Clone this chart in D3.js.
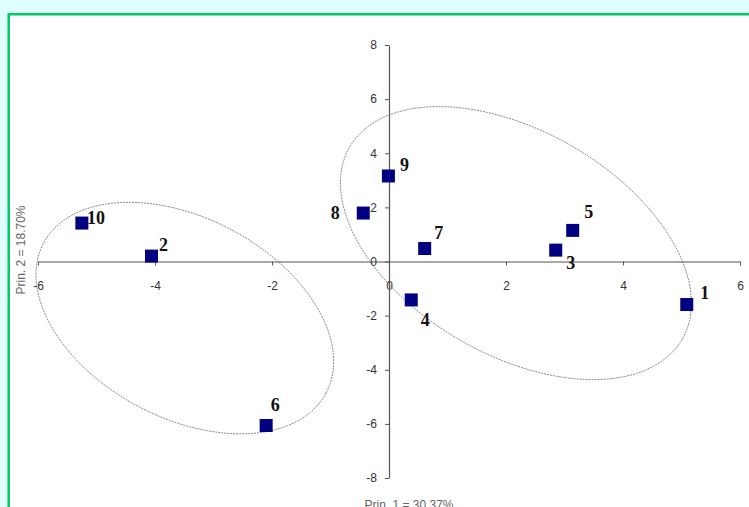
<!DOCTYPE html>
<html><head><meta charset="utf-8">
<script src="https://cdn.jsdelivr.net/npm/d3@7"></script>
<style>
html,body{margin:0;padding:0;background:#e0ffff;}
svg{display:block;}
</style></head>
<body>
<svg id="chart" width="749" height="507"></svg>
<script>
// ---- data ----
const labels = ["1","2","3","4","5","6","7","8","9","10"];
const prin1 = [5.09, -4.06, 2.85, 0.38, 3.14, -2.10, 0.61, -0.44, -0.01, -5.25];
const prin2 = [-1.59, 0.20, 0.42, -1.42, 1.15, -6.06, 0.48, 1.79, 3.16, 1.42];
const xTicks = [-6, -4, -2, 0, 2, 4, 6];
const yTicks = [-8, -6, -4, -2, 0, 2, 4, 6, 8];
const xTitle = "Prin. 1 = 30.37%";
const yTitle = "Prin. 2 = 18.70%";
// cluster ellipses in data units: centre, major axis vector, minor axis vector
const ellipseCentres = [[-3.49, -2.09], [2.17, 0.68]];
const ellipseMajor = [[2.415, -2.77], [2.843, -3.548]];
const ellipseMinor = [[-0.80, -3.26], [-0.957, -3.585]];

// ---- layout (not data) ----
const labelOffsets = [[18,-12],[12,-11],[15,13],[14,20],[16,-18],[9,-20],[14,-16],[-28,0],[16,-11],[14,-5]];

const svg = d3.select("#chart");
// frame
svg.append("rect").attr("x", 0).attr("y", 0).attr("width", 749).attr("height", 507).attr("fill", "#e0ffff");
svg.append("rect").attr("x", 8.75).attr("y", 14.25).attr("width", 800).attr("height", 600)
  .attr("fill", "#ffffff").attr("stroke", "#00cc66").attr("stroke-width", 2.5);

const x = d3.scaleLinear().domain([-6, 6]).range([38, 740]);
const y = d3.scaleLinear().domain([-8, 8]).range([478, 45]);

// ellipses
const line = d3.line().curve(d3.curveLinearClosed);
ellipseCentres.forEach((c, i) => {
  const pts = d3.range(0, 360, 2).map(deg => {
    const t = deg * Math.PI / 180;
    const dx = ellipseMajor[i][0] * Math.cos(t) + ellipseMinor[i][0] * Math.sin(t);
    const dy = ellipseMajor[i][1] * Math.cos(t) + ellipseMinor[i][1] * Math.sin(t);
    return [x(c[0] + dx), y(c[1] + dy)];
  });
  svg.append("path").attr("d", line(pts)).attr("fill", "none")
    .attr("stroke", "#888").attr("stroke-width", 1).attr("stroke-dasharray", "2,1");
});

// axes crossing at origin
const axisColor = "#555";
const gx = svg.append("g").attr("transform", `translate(0,${y(0)})`)
  .call(d3.axisBottom(x).tickValues(xTicks).tickSize(4).tickPadding(16).tickSizeOuter(0).tickFormat(d3.format("d")));
const gy = svg.append("g").attr("transform", `translate(${x(0)},0)`)
  .call(d3.axisLeft(y).tickValues(yTicks).tickSize(4).tickPadding(8).tickSizeOuter(0).tickFormat(d3.format("d")));
[gx, gy].forEach(g => {
  g.select(".domain").attr("stroke", axisColor).attr("stroke-width", 1.2);
  g.selectAll(".tick line").attr("stroke", axisColor);
  g.selectAll(".tick text").attr("fill", "#333").attr("font-family", "Arial, 'Liberation Sans', sans-serif")
    .attr("font-size", 12);
});
gx.selectAll(".tick text").text(d => d < 0 ? "-" + Math.abs(d) : d);
gy.selectAll(".tick text").text(d => d < 0 ? "-" + Math.abs(d) : d);

// axis titles
svg.append("text").attr("x", 409).attr("y", 509).attr("text-anchor", "middle")
  .attr("font-family", "Arial, 'Liberation Sans', sans-serif").attr("font-size", 12).attr("fill", "#666")
  .text(xTitle);
svg.append("text").attr("transform", "translate(25,250) rotate(-90)").attr("text-anchor", "middle")
  .attr("font-family", "Arial, 'Liberation Sans', sans-serif").attr("font-size", 12).attr("fill", "#666")
  .text(yTitle);

// points
const idx = d3.range(labels.length);
const size = 13;
svg.append("g").selectAll("rect").data(idx).join("rect")
  .attr("x", i => x(prin1[i]) - size / 2).attr("y", i => y(prin2[i]) - size / 2)
  .attr("width", size).attr("height", size).attr("fill", "#000080");
svg.append("g").selectAll("text").data(idx).join("text")
  .attr("x", i => x(prin1[i]) + labelOffsets[i][0]).attr("y", i => y(prin2[i]) + labelOffsets[i][1])
  .attr("text-anchor", "middle").attr("dominant-baseline", "central")
  .attr("font-family", "'Liberation Serif', 'Times New Roman', serif").attr("font-weight", "bold")
  .attr("font-size", 18).attr("fill", "#111")
  .text(i => labels[i]);
</script>
</body></html>
